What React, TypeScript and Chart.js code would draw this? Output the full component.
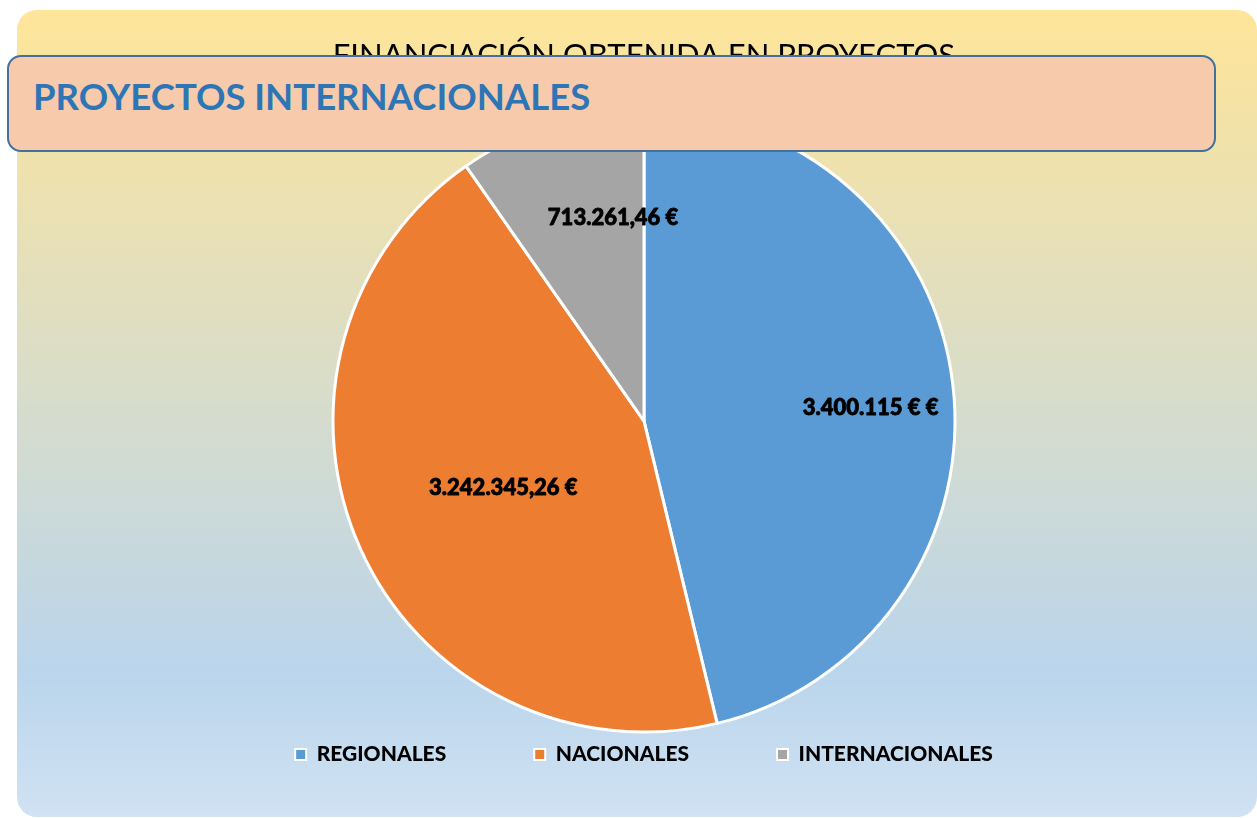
import React, { useEffect, useRef } from "react";
import { Chart, registerables } from "chart.js";

Chart.register(...registerables);

const categories = ["REGIONALES", "NACIONALES", "INTERNACIONALES"];
const amounts = [3400115, 3242345.26, 713261.46];
const valueLabels = ["3.400.115 € €", "3.242.345,26 €", "713.261,46 €"];
const sliceColors = ["#5B9BD5", "#ED7D31", "#A5A5A5"];
const chartTitle = "FINANCIACIÓN OBTENIDA EN PROYECTOS";
const overlayTitle = "PROYECTOS INTERNACIONALES";

// label placement (fraction of radius, angle offset in degrees)
const labelRadiusFrac = [0.73, 0.5, 0.66];
const labelAngleOffset = [3.5, -1, 8.8];

const W = 1257;
const H = 818;

const backgroundPlugin = {
  id: "bgPanel",
  beforeDraw(chart: any) {
    const ctx = chart.ctx;
    const x = 17, y = 10, w = 1240, h = 807, r = 20;
    const g = ctx.createLinearGradient(0, y, 0, y + h);
    g.addColorStop(0, "#FEE599");
    g.addColorStop(0.45, "#DADDC8");
    g.addColorStop(0.82, "#BAD5EC");
    g.addColorStop(1, "#D0E2F3");
    ctx.save();
    ctx.beginPath();
    ctx.roundRect(x, y, w, h, r);
    ctx.fillStyle = g;
    ctx.fill();
    ctx.restore();
  },
};

const valueLabelPlugin = {
  id: "valueLabels",
  afterDatasetsDraw(chart: any) {
    const ctx = chart.ctx;
    const meta = chart.getDatasetMeta(0);
    ctx.save();
    ctx.font = "900 22px Lato";
    ctx.fillStyle = "#000";
    ctx.strokeStyle = "#000";
    ctx.lineWidth = 0.8;
    ctx.lineJoin = "round";
    ctx.textAlign = "center";
    ctx.textBaseline = "middle";
    meta.data.forEach((arc: any, i: number) => {
      const p = arc.getProps(["x", "y", "startAngle", "endAngle", "outerRadius"], true);
      const mid = (p.startAngle + p.endAngle) / 2 + (labelAngleOffset[i] * Math.PI) / 180;
      const r = p.outerRadius * labelRadiusFrac[i];
      const tx = p.x + Math.cos(mid) * r;
      const ty = p.y + Math.sin(mid) * r;
      ctx.strokeText(valueLabels[i], tx, ty);
      ctx.fillText(valueLabels[i], tx, ty);
    });
    ctx.restore();
  },
};

export default function App() {
  const canvasRef = useRef<HTMLCanvasElement | null>(null);

  useEffect(() => {
    if (!canvasRef.current) return;
    const baseGen = (Chart as any).overrides.doughnut.plugins.legend.labels.generateLabels;
    const chart = new Chart(canvasRef.current, {
      type: "pie",
      data: {
        labels: categories,
        datasets: [
          {
            data: amounts,
            backgroundColor: sliceColors,
            borderColor: "#FFFFFF",
            borderWidth: 3,
            radius: 311,
            clip: false,
          } as any,
        ],
      },
      options: {
        responsive: false,
        animation: false,
        devicePixelRatio: 1,
        layout: { padding: { left: 31, right: 0, top: 0, bottom: 43 } },
        plugins: {
          title: {
            display: true,
            text: chartTitle,
            color: "#000000",
            font: { family: "Lato", size: 31, weight: "normal", lineHeight: 1.2 },
            padding: { top: 37, bottom: 112 },
          },
          legend: {
            position: "bottom",
            labels: {
              boxWidth: 11,
              boxHeight: 11,
              padding: 88,
              color: "#000",
              font: { family: "Lato", size: 21, weight: "900" },
              generateLabels: (c: any) =>
                baseGen(c).map((l: any) => ({ ...l, lineWidth: 2, strokeStyle: "#FFFFFF" })),
            },
          },
          tooltip: { enabled: false },
        },
      } as any,
      plugins: [backgroundPlugin, valueLabelPlugin],
    });
    return () => chart.destroy();
  }, []);

  return (
    <div style={{ position: "absolute", left: 0, top: 0, width: W, height: H, overflow: "hidden", background: "#FFFFFF" }}>
      <canvas ref={canvasRef} width={W} height={H} style={{ position: "absolute", left: 0, top: 0, width: W, height: H }} />
      <div
        style={{
          position: "absolute",
          left: 7,
          top: 55,
          width: 1209,
          height: 97,
          boxSizing: "border-box",
          background: "#F7CAAC",
          border: "2.5px solid #41719C",
          borderRadius: 14,
        }}
      >
        <span
          style={{
            position: "absolute",
            left: 24,
            top: 21,
            fontFamily: "Lato",
            fontWeight: "bold",
            fontSize: 36.5,
            lineHeight: 1,
            color: "#2E75B6",
            whiteSpace: "nowrap",
          }}
        >
          {overlayTitle}
        </span>
      </div>
    </div>
  );
}
